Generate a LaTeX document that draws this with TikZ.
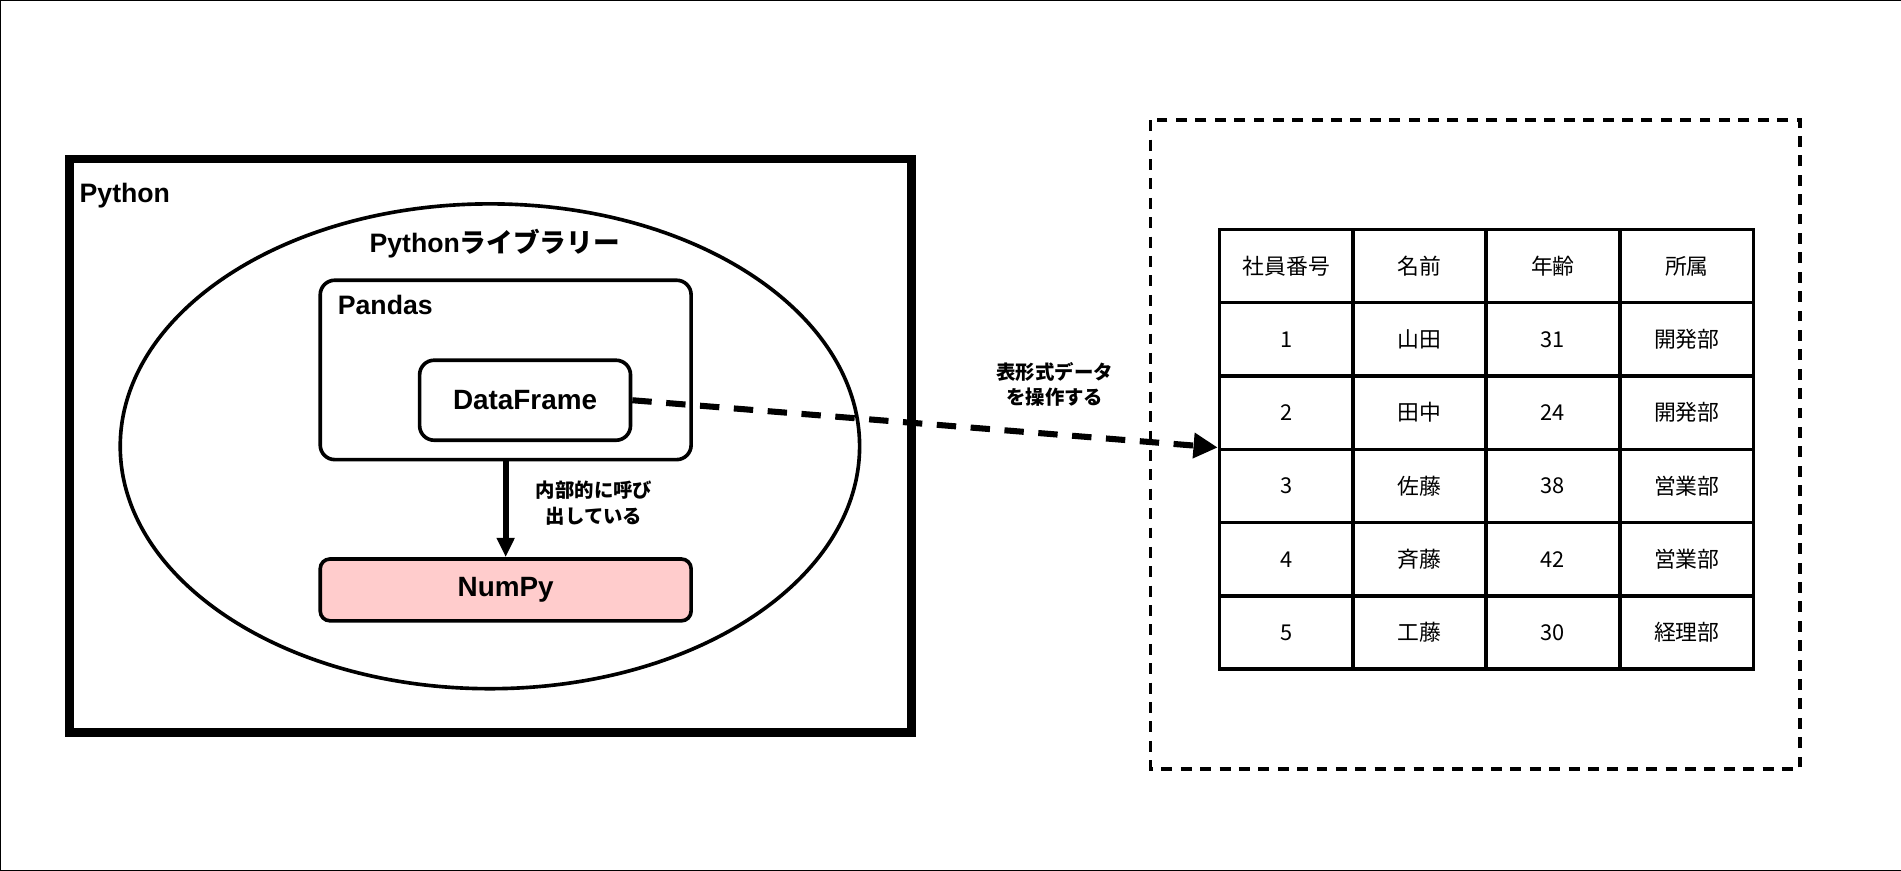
\documentclass[tikz,border=0pt]{standalone}
\usepackage{fontspec}
\setmainfont{Liberation Sans}
\newfontfamily\cjk{Noto Sans CJK JP}
\usetikzlibrary{arrows.meta}
\tikzset{
  box/.style={draw,line width=3pt,rounded corners=12pt,font=\bfseries\fontsize{23}{27}\selectfont},
  cell/.style={draw,line width=3pt,minimum width=110pt,minimum height=60.5pt,
    inner sep=0pt,font=\cjk\fontsize{18}{21}\selectfont},
  note/.style={font=\cjk\bfseries\fontsize{16}{21}\selectfont,align=center}
}
\begin{document}
\begin{tikzpicture}[x=1pt,y=-1pt]
      \draw[thin] (0,0) rectangle (1568,718) ;
      \draw[line width=7pt] (57,131) rectangle (752,604) ;
      \node[anchor=west,font=\bfseries\fontsize{22}{26}\selectfont] (py) at (62,161) {Python} ;
      \draw[line width=3pt] (404,368) ellipse [x radius=305,y radius=200] ;
      \node[font=\bfseries\fontsize{22}{26}\selectfont] (lib) at (408,201) {Python{\cjk ライブラリー}} ;
      \node[box,minimum width=306pt,minimum height=148pt] (pd) at (417,305) {} ;
      \node[anchor=west,font=\bfseries\fontsize{22}{26}\selectfont] (pdl) at (275,251) {Pandas} ;
      \node[box,minimum width=174pt,minimum height=66pt] (df) at (433,330) {DataFrame} ;
      \node[box,fill={rgb,255:red,255;green,204;blue,204},minimum width=306pt,
        minimum height=51pt,rounded corners=8pt] (np) at (417,486.5) {NumPy} ;
      \draw[line width=5pt,-{Triangle[length=16pt,width=14pt]}] (pd.south) -- (np.north) ;
      \node[note] (call) at (490,415) {内部的に呼び\\出している} ;
      \draw[line width=3pt,dash pattern=on 9pt off 7pt] (949,99) rectangle (1485,634) ;
      % table
      \foreach \r/\a/\b/\c/\d in {0/社員番号/名前/年齢/所属,1/1/山田/31/開発部,
        2/2/田中/24/開発部,3/3/佐藤/38/営業部,4/4/斉藤/42/営業部,5/5/工藤/30/経理部}{
        \node[cell] (t\r-1) at (1061,219.25+60.5*\r) {\a} ;
        \node[cell] (t\r-2) at (1171,219.25+60.5*\r) {\b} ;
        \node[cell] (t\r-3) at (1281,219.25+60.5*\r) {\c} ;
        \node[cell] (t\r-4) at (1391.5,219.25+60.5*\r) {\d} ;
      }
      \coordinate (tin) at (t3-1.north west) ;
      \draw[line width=5pt,dash pattern=on 16pt off 12pt,
        -{Triangle[length=20pt,width=20pt]}] (df.east) -- (tin) ;
      \node[note] (op) at (870,317) {表形式データ\\を操作する} ;
    \end{tikzpicture}
\end{document}
